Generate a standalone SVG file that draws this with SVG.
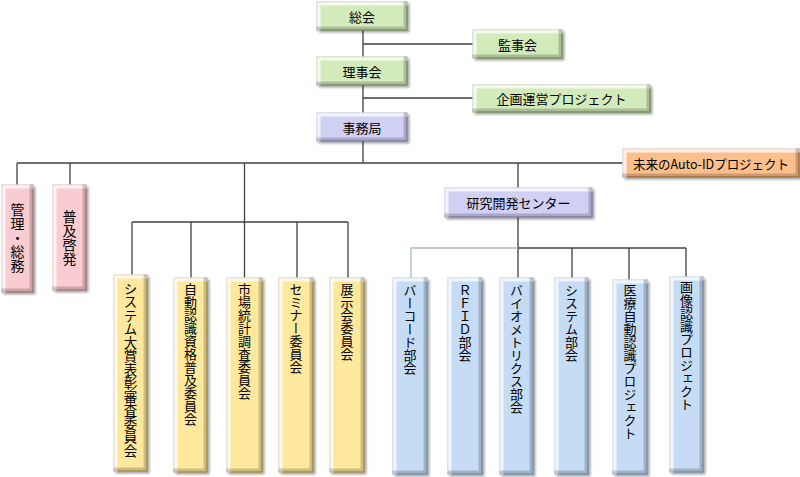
<svg xmlns="http://www.w3.org/2000/svg" width="800" height="477" viewBox="0 0 800 477">
<defs>
<filter id="bev" x="-20%" y="-10%" width="150%" height="130%">
<feOffset in="SourceAlpha" dx="2" dy="2" result="o1"/>
<feGaussianBlur in="o1" stdDeviation="1.2" result="sh"/>
<feFlood flood-color="#000" flood-opacity="0.35"/>
<feComposite in2="sh" operator="in" result="shadow"/>
<feOffset in="SourceAlpha" dx="4" dy="4" result="s1"/>
<feComposite in="SourceAlpha" in2="s1" operator="out" result="tl"/>
<feFlood flood-color="#fff" flood-opacity="0.7"/>
<feComposite in2="tl" operator="in" result="hl"/>
<feOffset in="SourceAlpha" dx="-4" dy="-4" result="s2"/>
<feComposite in="SourceAlpha" in2="s2" operator="out" result="br"/>
<feFlood flood-color="#000" flood-opacity="0.38"/>
<feComposite in2="br" operator="in" result="dk"/>
<feMerge><feMergeNode in="shadow"/><feMergeNode in="SourceGraphic"/><feMergeNode in="hl"/><feMergeNode in="dk"/></feMerge>
</filter>
</defs>
<style>
rect{filter:url(#bev);stroke-width:1}
.g{fill:#d3eabb;stroke:#7a9a58}
.p{fill:#d0d0f5;stroke:#8686bc}
.o{fill:#fbbf8c;stroke:#bb7438}
.k{fill:#f8ccd1;stroke:#b57b84}
.y{fill:#fde89e;stroke:#b39a48}
.b{fill:#c6dcf4;stroke:#809cbc}
text{font-family:"Noto Sans CJK JP","Noto Sans",sans-serif;font-size:13px;fill:#000}
.h{text-anchor:middle;dominant-baseline:central}
.v{writing-mode:vertical-rl;text-anchor:start}
.vc{writing-mode:vertical-rl;text-anchor:middle;font-size:14px}
.c line{stroke:#404040;stroke-width:1.3}
.c line.l{stroke:#a4bcd2}
</style>
<g class="c" id="connectors">
<line x1="363" y1="30" x2="363" y2="57"/>
<line x1="363" y1="85" x2="363" y2="113"/>
<line x1="363" y1="141" x2="363" y2="163"/>
<line x1="363" y1="44" x2="473" y2="44"/>
<line x1="363" y1="98" x2="473" y2="98"/>
<line x1="17" y1="163" x2="623" y2="163"/>
<line x1="17" y1="163" x2="17" y2="185"/>
<line x1="70" y1="163" x2="70" y2="185"/>
<line x1="244.5" y1="163" x2="244.5" y2="278"/>
<line x1="132" y1="222" x2="348" y2="222"/>
<line x1="132" y1="222" x2="132" y2="275"/>
<line x1="191" y1="222" x2="191" y2="278"/>
<line x1="297" y1="222" x2="297" y2="278"/>
<line x1="348" y1="222" x2="348" y2="278"/>
<line x1="518" y1="163" x2="518" y2="188"/>
<line x1="518" y1="217" x2="518" y2="278"/>
<line class="l" x1="411" y1="248" x2="518" y2="248"/>
<line class="l" x1="411" y1="248" x2="411" y2="278"/>
<line x1="518" y1="248" x2="686" y2="248"/>
<line x1="572" y1="248" x2="572" y2="278"/>
<line x1="629" y1="248" x2="629" y2="280"/>
<line x1="686" y1="248" x2="686" y2="277"/>
</g>
<g id="sokai"><rect class="g" x="317" y="2" width="90" height="28"/><text class="h" x="362" y="16">総会</text></g>
<g id="kanjikai"><rect class="g" x="473" y="30" width="89" height="28"/><text class="h" x="517.5" y="44">監事会</text></g>
<g id="rijikai"><rect class="g" x="317" y="57" width="90" height="28"/><text class="h" x="362" y="71">理事会</text></g>
<g id="kikaku"><rect class="g" x="473" y="85" width="177" height="27"/><text class="h" x="561.5" y="98.5">企画運営プロジェクト</text></g>
<g id="jimukyoku"><rect class="p" x="317" y="113" width="90" height="28"/><text class="h" x="362" y="127">事務局</text></g>
<g id="mirai"><rect class="o" x="623" y="149" width="176" height="28"/><text class="h" x="711" y="163" textLength="156" lengthAdjust="spacingAndGlyphs">未来のAuto-IDプロジェクト</text></g>
<g id="kenkyu"><rect class="p" x="445" y="188" width="147" height="29"/><text class="h" x="518.5" y="202.5">研究開発センター</text></g>
<g id="kanri"><rect class="k" x="2" y="185" width="31" height="107"/><text class="vc" x="17.5" y="238">管理・総務</text></g>
<g id="fukyu"><rect class="k" x="53" y="185" width="33" height="105"/><text class="vc" x="69.5" y="237.5">普及啓発</text></g>
<g id="taisho"><rect class="y" x="114" y="275" width="33" height="196"/><text class="v" x="130.5" y="282" style="font-size:13.5px">システム大賞表彰審査委員会</text></g>
<g id="shikaku"><rect class="y" x="174" y="278" width="33" height="194"/><text class="v" x="190.5" y="283">自動認識資格普及委員会</text></g>
<g id="shijo"><rect class="y" x="227" y="278" width="35" height="194"/><text class="v" x="244.5" y="283">市場統計調査委員会</text></g>
<g id="seminar"><rect class="y" x="279" y="278" width="34" height="194"/><text class="v" x="296" y="283">セミナー委員会</text></g>
<g id="tenji"><rect class="y" x="330" y="278" width="34" height="194"/><text class="v" x="347" y="283">展示会委員会</text></g>
<g id="barcode"><rect class="b" x="393" y="278" width="34" height="196"/><text class="v" x="410" y="284">バーコード部会</text></g>
<g id="rfid"><rect class="b" x="448" y="278" width="34" height="196"/><text class="v" x="465" y="284">ＲＦＩＤ部会</text></g>
<g id="bio"><rect class="b" x="500" y="278" width="33" height="196"/><text class="v" x="516.5" y="284">バイオメトリクス部会</text></g>
<g id="system"><rect class="b" x="555" y="278" width="33" height="196"/><text class="v" x="571.5" y="284">システム部会</text></g>
<g id="iryo"><rect class="b" x="613" y="280" width="34" height="194"/><text class="v" x="630" y="284">医療自動認識プロジェクト</text></g>
<g id="gazo"><rect class="b" x="670" y="277" width="33" height="195"/><text class="v" x="686.5" y="281">画像認識プロジェクト</text></g>
</svg>
